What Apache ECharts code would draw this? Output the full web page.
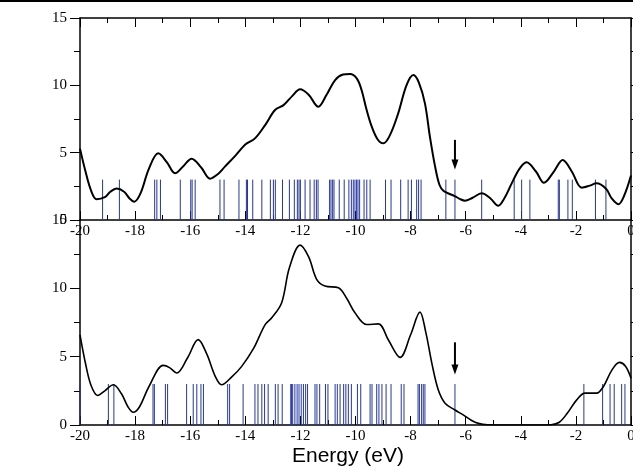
<!DOCTYPE html>
<html>
<head>
    <meta charset="UTF-8">
    <title>DOS</title>
    <script src="https://cdn.jsdelivr.net/npm/echarts@6/dist/echarts.min.js"></script>
</head>
<body style="margin:0">
    <div id="dos" style="width:633px; height:469px"></div>
    <script>
        // top panel curve
        var energyTop = [-20.0, -19.8, -19.6, -19.4, -19.1, -18.9, -18.67, -18.4, -18.2, -18.03, -17.8, -17.5, -17.16, -16.85, -16.55, -16.25, -15.95, -15.6, -15.28, -15.0, -14.74, -14.35, -14.0, -13.65, -13.28, -12.92, -12.6, -12.3, -12.01, -11.7, -11.35, -11.05, -10.74, -10.45, -10.2, -9.95, -9.78, -9.6, -9.41, -9.2, -8.99, -8.75, -8.45, -8.15, -7.9, -7.7, -7.48, -7.3, -7.11, -6.95, -6.8, -6.6, -6.4, -6.2, -6.03, -5.75, -5.42, -5.1, -4.82, -4.6, -4.33, -4.05, -3.79, -3.45, -3.16, -2.8, -2.48, -2.15, -1.79, -1.5, -1.25, -0.9, -0.7, -0.46, -0.25, 0.0];
        var dosTop = [5.3, 3.6, 2.2, 1.55, 1.7, 2.1, 2.33, 2.1, 1.6, 1.36, 2.0, 3.8, 4.95, 4.3, 3.47, 4.0, 4.55, 3.9, 3.07, 3.4, 3.96, 4.8, 5.6, 6.06, 7.05, 8.17, 8.55, 9.2, 9.7, 9.3, 8.41, 9.3, 10.39, 10.8, 10.84, 10.5, 9.65, 8.2, 6.93, 6.0, 5.69, 6.3, 7.92, 10.0, 10.76, 10.2, 8.66, 6.2, 3.96, 2.6, 2.15, 1.95, 1.78, 1.55, 1.43, 1.65, 1.98, 1.6, 1.06, 1.6, 2.72, 3.8, 4.28, 3.6, 2.77, 3.6, 4.45, 3.6, 2.4, 2.55, 2.72, 2.3, 1.6, 1.17, 1.8, 3.3];

        // bottom panel curve
        var energyBottom = [-20.0, -19.8, -19.6, -19.36, -19.1, -18.79, -18.5, -18.25, -18.07, -17.85, -17.5, -16.98, -16.75, -16.49, -16.1, -15.71, -15.4, -15.1, -14.86, -14.5, -14.13, -13.7, -13.28, -13.04, -12.68, -12.4, -12.01, -11.7, -11.41, -11.11, -10.62, -10.3, -10.02, -9.59, -9.17, -8.8, -8.38, -8.0, -7.66, -7.45, -7.23, -7.0, -6.75, -6.39, -6.09, -5.8, -5.54, -5.2, -4.5, -3.5, -2.9, -2.6, -2.3, -1.97, -1.67, -1.25, -1.0, -0.7, -0.42, -0.2, 0.0];
        var dosBottom = [6.6, 4.5, 2.9, 2.16, 2.5, 2.94, 2.3, 1.3, 0.93, 1.3, 2.8, 4.36, 4.2, 3.8, 4.9, 6.25, 5.2, 3.6, 2.94, 3.5, 4.29, 5.6, 7.35, 7.84, 8.95, 11.5, 13.16, 12.3, 10.66, 10.17, 10.05, 9.2, 8.21, 7.35, 7.4, 6.2, 4.95, 6.6, 8.26, 6.8, 4.53, 2.6, 1.6, 1.1, 0.74, 0.35, 0.12, 0.02, 0, 0, 0.02, 0.2, 0.9, 1.84, 2.33, 2.33, 2.82, 4.0, 4.58, 4.3, 3.43];

        // eigenvalue sticks
        var levelsTop = [-19.18, -18.57, -17.29, -17.21, -17.08, -16.36, -15.98, -15.93, -15.82, -14.92, -14.77, -14.23, -13.96, -13.92, -13.73, -13.40, -13.09, -12.98, -12.91, -12.65, -12.40, -12.22, -12.11, -12.05, -12.00, -11.83, -11.65, -11.50, -11.42, -11.36, -10.94, -10.89, -10.83, -10.78, -10.59, -10.41, -10.24, -10.15, -10.08, -10.02, -9.96, -9.91, -9.85, -9.69, -9.59, -9.47, -8.91, -8.71, -8.36, -8.09, -7.97, -7.78, -7.71, -7.62, -6.72, -6.39, -5.42, -4.24, -3.97, -3.67, -2.64, -2.60, -2.29, -2.13, -1.29, -0.91];
        var levelsBottom = [-20.00, -18.97, -18.77, -17.35, -17.30, -16.90, -16.82, -16.13, -15.89, -15.76, -15.61, -15.52, -14.64, -14.57, -14.08, -13.65, -13.54, -13.40, -13.30, -13.17, -12.91, -12.81, -12.66, -12.35, -12.32, -12.28, -12.20, -12.12, -12.05, -11.97, -11.89, -11.81, -11.74, -11.47, -11.40, -11.30, -11.09, -11.00, -10.74, -10.66, -10.56, -10.43, -10.35, -10.26, -10.15, -9.93, -9.81, -9.47, -9.40, -9.23, -9.15, -9.04, -8.89, -8.71, -8.34, -8.24, -7.73, -7.68, -7.60, -7.54, -7.48, -6.39, -1.71, -1.03, -0.76, -0.61, -0.34, -0.22];
        var stickHeight = 3;

        // arrows: [energy, from, to]
        var arrowTop = [-6.39, 5.95, 3.75];
        var arrowBottom = [-6.39, 6.05, 3.7];

        var chart = echarts.init(document.getElementById('dos'), null, {renderer: 'canvas'});

        function pairs(xs, ys) {
            var out = [];
            for (var i = 0; i < xs.length; ++i) {
                out.push([xs[i], ys[i]]);
            }
            return out;
        }

        function sticks(xs) {
            return xs.map(function (e) { return [e, stickHeight]; });
        }

        function stickItem(params, api) {
            var p0 = api.coord([api.value(0), 0]);
            var p1 = api.coord([api.value(0), api.value(1)]);
            return {
                type: 'line',
                shape: {x1: p0[0], y1: p0[1], x2: p1[0], y2: p1[1]},
                style: {stroke: '#2536a0', lineWidth: 1}
            };
        }

        function arrowItem(params, api) {
            var a = api.coord([api.value(0), api.value(1)]);
            var b = api.coord([api.value(0), api.value(2)]);
            return {
                type: 'group',
                children: [
                    {type: 'line', shape: {x1: a[0], y1: a[1], x2: b[0], y2: b[1] - 8}, style: {stroke: '#000', lineWidth: 2}},
                    {type: 'polygon', shape: {points: [[b[0] - 3.5, b[1] - 10], [b[0] + 3.5, b[1] - 10], [b[0], b[1]]]}, style: {fill: '#000'}}
                ]
            };
        }

        var tickFont = {color: '#000', fontFamily: 'Liberation Serif', fontSize: 15};

        function xAxisFor(idx, pos, labels) {
            return {
                gridIndex: idx, type: 'value', position: pos, min: -20, max: 0, interval: 2,
                axisLine: {onZero: false, lineStyle: {color: '#000', width: 1.5}},
                axisTick: {inside: true, length: 9, lineStyle: {color: '#000', width: 1}},
                minorTick: {show: true, splitNumber: 2, length: 5, lineStyle: {color: '#000', width: 1}},
                splitLine: {show: false},
                axisLabel: Object.assign({show: labels, margin: 4}, tickFont)
            };
        }

        function yAxisFor(idx, pos, labels) {
            return {
                gridIndex: idx, type: 'value', position: pos, min: 0, max: 15, interval: 5,
                axisLine: {onZero: false, lineStyle: {color: '#000', width: 1.5}},
                axisTick: {inside: false, length: 10, lineStyle: {color: '#000', width: 1}},
                minorTick: {show: true, splitNumber: 2, length: 6, lineStyle: {color: '#000', width: 1}},
                splitLine: {show: false},
                axisLabel: Object.assign({show: labels, margin: 13, showMinLabel: true, showMaxLabel: true}, tickFont)
            };
        }

        var option = {
            animation: false,
            backgroundColor: '#fff',
            grid: [
                {left: 80, top: 18, width: 551, height: 202, outerBoundsMode: 'none'},
                {left: 80, top: 220, width: 551, height: 205, outerBoundsMode: 'none'}
            ],
            xAxis: [
                xAxisFor(0, 'bottom', true),
                xAxisFor(0, 'top', false),
                xAxisFor(1, 'bottom', true)
            ],
            yAxis: [
                yAxisFor(0, 'left', true),
                yAxisFor(0, 'right', false),
                yAxisFor(1, 'left', true),
                yAxisFor(1, 'right', false)
            ],
            graphic: [
                {type: 'rect', shape: {x: 0, y: 0, width: 633, height: 2}, style: {fill: '#000'}},
                {type: 'text', left: 292, top: 446, style: {text: 'Energy (eV)', fontFamily: 'Liberation Sans', fontSize: 21, fill: '#000'}}
            ],
            series: [
                {type: 'custom', xAxisIndex: 0, yAxisIndex: 0, renderItem: stickItem, data: sticks(levelsTop), z: 2},
                {type: 'line', xAxisIndex: 0, yAxisIndex: 0, data: pairs(energyTop, dosTop), smooth: 0.35, showSymbol: false,
                    lineStyle: {color: '#000', width: 2}, z: 3},
                {type: 'custom', xAxisIndex: 0, yAxisIndex: 0, renderItem: arrowItem, data: [arrowTop], z: 4},
                {type: 'custom', xAxisIndex: 2, yAxisIndex: 2, renderItem: stickItem, data: sticks(levelsBottom), z: 2},
                {type: 'line', xAxisIndex: 2, yAxisIndex: 2, data: pairs(energyBottom, dosBottom), smooth: 0.35, showSymbol: false,
                    lineStyle: {color: '#000', width: 1.6}, z: 3},
                {type: 'custom', xAxisIndex: 2, yAxisIndex: 2, renderItem: arrowItem, data: [arrowBottom], z: 4}
            ]
        };
        chart.setOption(option);
    </script>
</body>
</html>
